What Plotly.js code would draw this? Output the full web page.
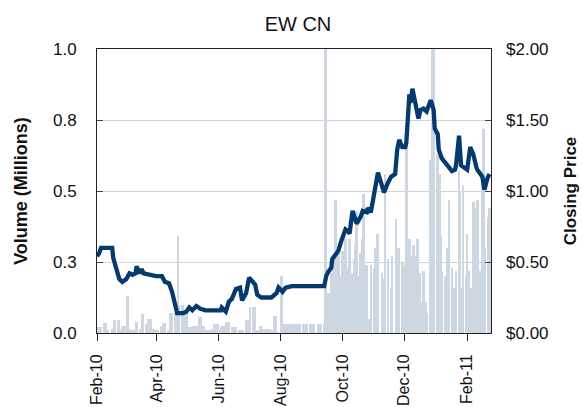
<!DOCTYPE html>
<html>
<head>
<meta charset="utf-8">
<script src="https://cdn.plot.ly/plotly-3.0.1.min.js"></script>
<style>html,body{margin:0;padding:0;background:#fff;}#chart{width:582px;height:407px;}</style>
</head>
<body>
<div id="chart"></div>
<script>
// ---- Data ----
var priceDates = [
"2010-02-01","2010-02-03","2010-02-05","2010-02-12","2010-02-16","2010-02-17","2010-02-19","2010-02-23","2010-02-26",
"2010-03-02","2010-03-05","2010-03-08","2010-03-11","2010-03-12","2010-03-15","2010-03-17","2010-03-19","2010-03-25","2010-03-31",
"2010-04-06","2010-04-09","2010-04-13","2010-04-16","2010-04-19","2010-04-21","2010-04-27","2010-04-30",
"2010-05-03","2010-05-06","2010-05-10","2010-05-13","2010-05-14","2010-05-19","2010-05-27",
"2010-06-03","2010-06-04","2010-06-08","2010-06-11","2010-06-14","2010-06-18","2010-06-22","2010-06-24","2010-06-28",
"2010-07-01","2010-07-05","2010-07-07","2010-07-09","2010-07-13","2010-07-23","2010-07-28","2010-07-30",
"2010-08-03","2010-08-06","2010-08-12","2010-09-13","2010-09-15","2010-09-17","2010-09-20","2010-09-21","2010-09-24","2010-09-27","2010-09-30",
"2010-10-04","2010-10-06","2010-10-08","2010-10-11","2010-10-13","2010-10-15","2010-10-19","2010-10-21","2010-10-25","2010-10-26","2010-10-29",
"2010-11-01","2010-11-03","2010-11-05","2010-11-08","2010-11-11","2010-11-15","2010-11-18","2010-11-22","2010-11-24","2010-11-26","2010-11-29",
"2010-12-02","2010-12-03","2010-12-06","2010-12-07","2010-12-09","2010-12-10","2010-12-13","2010-12-15","2010-12-17","2010-12-20","2010-12-23","2010-12-27","2010-12-30","2010-12-31",
"2011-01-03","2011-01-04","2011-01-07","2011-01-10","2011-01-13","2011-01-17","2011-01-20","2011-01-21","2011-01-24","2011-01-26","2011-01-28",
"2011-02-01","2011-02-04","2011-02-07","2011-02-10","2011-02-11","2011-02-16","2011-02-18","2011-02-21","2011-02-23"
];
var priceValues = [
0.54,0.56,0.60,0.60,0.60,0.53,0.48,0.38,0.36,
0.38,0.42,0.41,0.42,0.47,0.42,0.45,0.42,0.41,0.40,
0.40,0.36,0.35,0.29,0.20,0.14,0.14,0.15,
0.18,0.16,0.19,0.17,0.17,0.16,0.16,
0.16,0.18,0.15,0.22,0.24,0.31,0.32,0.23,0.28,
0.39,0.35,0.34,0.27,0.25,0.25,0.28,0.32,
0.29,0.32,0.33,0.33,0.40,0.43,0.46,0.52,0.55,0.58,0.65,
0.73,0.72,0.70,0.86,0.82,0.77,0.82,0.86,0.85,0.88,0.85,
0.98,1.06,1.13,1.06,0.99,1.06,1.10,1.12,1.29,1.36,1.31,
1.31,1.34,1.68,1.62,1.72,1.69,1.60,1.51,1.57,1.58,1.56,1.64,1.57,1.44,
1.40,1.29,1.23,1.20,1.17,1.14,1.15,1.18,1.39,1.18,1.17,
1.15,1.31,1.26,1.17,1.15,1.10,1.01,1.09,1.12
];

var volDates = [
"2010-02-01","2010-02-03","2010-02-05","2010-02-08","2010-02-10","2010-02-12","2010-02-16","2010-02-18","2010-02-22","2010-02-24","2010-02-26",
"2010-03-01","2010-03-03","2010-03-05","2010-03-08","2010-03-10","2010-03-12","2010-03-16","2010-03-18","2010-03-22","2010-03-24","2010-03-26","2010-03-29","2010-03-31",
"2010-04-02","2010-04-05","2010-04-07","2010-04-09","2010-04-12","2010-04-14","2010-04-16","2010-04-19","2010-04-21","2010-04-22","2010-04-23","2010-04-26","2010-04-28","2010-04-30",
"2010-05-03","2010-05-05","2010-05-07","2010-05-10","2010-05-12","2010-05-13","2010-05-14","2010-05-17","2010-05-19","2010-05-21","2010-05-24","2010-05-26","2010-05-28","2010-05-31",
"2010-06-02","2010-06-04","2010-06-07","2010-06-09","2010-06-11","2010-06-14","2010-06-16","2010-06-18","2010-06-21","2010-06-23","2010-06-25","2010-06-28","2010-06-30",
"2010-07-02","2010-07-05","2010-07-06","2010-07-08","2010-07-09","2010-07-12","2010-07-14","2010-07-16","2010-07-19","2010-07-21","2010-07-23","2010-07-26","2010-07-27","2010-07-29",
"2010-08-02","2010-08-04","2010-08-06","2010-08-09","2010-08-11","2010-08-13","2010-08-16","2010-08-18","2010-08-20","2010-08-23","2010-08-25","2010-08-27","2010-08-30",
"2010-09-01","2010-09-03","2010-09-07","2010-09-09","2010-09-10","2010-09-13","2010-09-14","2010-09-16","2010-09-17","2010-09-20","2010-09-21","2010-09-22","2010-09-24","2010-09-27","2010-09-29","2010-09-30",
"2010-10-01","2010-10-04","2010-10-06","2010-10-08","2010-10-11","2010-10-13","2010-10-14","2010-10-15","2010-10-18","2010-10-19","2010-10-21","2010-10-22","2010-10-25","2010-10-27","2010-10-29",
"2010-11-01","2010-11-02","2010-11-04","2010-11-05","2010-11-09","2010-11-10","2010-11-12","2010-11-15","2010-11-18","2010-11-19","2010-11-23","2010-11-25","2010-11-29",
"2010-12-01","2010-12-03","2010-12-06","2010-12-07","2010-12-10","2010-12-13","2010-12-14","2010-12-16","2010-12-17","2010-12-20","2010-12-22","2010-12-23","2010-12-27","2010-12-29","2010-12-30",
"2011-01-03","2011-01-04","2011-01-05","2011-01-06","2011-01-07","2011-01-10","2011-01-12","2011-01-14","2011-01-17","2011-01-18","2011-01-19","2011-01-21","2011-01-24","2011-01-25","2011-01-27","2011-01-28","2011-01-31",
"2011-02-01","2011-02-02","2011-02-04","2011-02-07","2011-02-09","2011-02-11","2011-02-14","2011-02-16","2011-02-17","2011-02-18","2011-02-22","2011-02-23"
];
var volValues = [
0.02,0.02,0.02,0.035,0.035,0.01,0.015,0.045,0.045,0.01,0.025,
0.025,0.13,0.015,0.01,0.01,0.04,0.015,0.067,0.03,0.05,0.05,0.015,0.01,
0.01,0.025,0.036,0.036,0.01,0.07,0.07,0.07,0.07,0.34,0.10,0.10,0.08,0.08,
0.02,0.02,0.025,0.025,0.015,0.057,0.057,0.025,0.01,0.01,0.01,0.015,0.03,0.03,
0.01,0.025,0.025,0.04,0.04,0.02,0.02,0.02,0.01,0.01,0.01,0.045,0.045,
0.09,0.09,0.09,0.01,0.01,0.025,0.015,0.015,0.015,0.015,0.01,0.06,0.06,0.005,
0.20,0.03,0.03,0.03,0.03,0.03,0.03,0.03,0.03,0.03,0.03,0.03,0.03,
0.03,0.03,0.03,0.03,0.03,0.03,1.10,0.11,0.14,0.21,0.13,0.24,0.47,0.29,0.12,0.20,
0.29,0.33,0.23,0.33,0.21,0.26,0.31,0.43,0.20,0.28,0.33,0.49,0.24,0.05,0.24,
0.23,0.30,0.35,0.35,0.21,0.19,0.56,0.26,0.16,0.27,0.40,0.30,0.25,
0.24,0.68,0.33,0.27,0.31,0.27,0.33,0.21,0.11,0.22,0.11,0.07,0.61,1.10,1.10,
0.63,0.48,0.56,0.34,0.22,0.20,0.30,0.47,0.23,0.14,0.16,0.22,0.57,0.50,0.16,0.52,0.20,
0.35,0.22,0.16,0.46,0.44,0.47,0.22,0.54,0.72,0.30,0.41,0.44
];

var xTickDates = ["2010-02-01","2010-04-01","2010-06-01","2010-08-01","2010-10-01","2010-12-01","2011-02-01"];
var xTickLabels = ["Feb-10","Apr-10","Jun-10","Aug-10","Oct-10","Dec-10","Feb-11"];
var volTicks = [0, 0.25, 0.5, 0.75, 1.0];
var volTickLabels = ["0.0","0.3","0.5","0.8","1.0"];
var priceTicks = [0, 0.5, 1.0, 1.5, 2.0];
var priceTickLabels = ["$0.00","$0.50","$1.00","$1.50","$2.00"];

var FONT = "Liberation Sans, Arial, sans-serif";
var DAY = 86400000;

var traces = [
  {
    type: "bar", x: volDates, y: volValues, yaxis: "y",
    width: 2.6 * DAY,
    marker: {color: "#cdd7e1", line: {width: 0}},
    hoverinfo: "skip", showlegend: false
  },
  {
    type: "scatter", mode: "lines", x: priceDates, y: priceValues, yaxis: "y2",
    line: {color: "#053a6e", width: 4.3, shape: "linear"},
    showlegend: false, cliponaxis: true
  }
];

var layout = {
  width: 582, height: 407,
  margin: {l: 97, r: 91, t: 49, b: 74, pad: 0},
  paper_bgcolor: "#ffffff", plot_bgcolor: "#ffffff",
  font: {family: FONT, color: "#111111"},
  bargap: 0,
  title: {text: "EW CN", font: {family: FONT, size: 20, color: "#111111"},
          x: 0.512, xref: "container", xanchor: "center", y: 0.94, yref: "container", yanchor: "middle"},
  xaxis: {
    type: "date", range: ["2010-02-01", "2011-02-24 12:00"],
    tickmode: "array", tickvals: xTickDates, ticktext: xTickLabels,
    tickangle: -90, ticks: "outside", ticklen: 7, tickwidth: 1, tickcolor: "#222",
    tickfont: {family: FONT, size: 16, color: "#111"},
    showline: true, linecolor: "#222", linewidth: 1, mirror: true,
    showgrid: false, zeroline: false, ticklabelstandoff: 7
  },
  yaxis: {
    range: [0, 1], tickmode: "array", tickvals: volTicks, ticktext: volTickLabels,
    ticks: "inside", ticklen: 6, tickcolor: "#444", tickwidth: 1,
    tickfont: {family: FONT, size: 17, color: "#111"},
    showline: true, linecolor: "#222", linewidth: 1, mirror: true,
    showgrid: true, gridcolor: "#d3d3d3", gridwidth: 1, zeroline: false,
    ticklabelstandoff: 16,
    title: {text: "Volume (Millions)", font: {family: FONT, size: 18, color: "#111", weight: "bold"}, standoff: 20}
  },
  yaxis2: {
    overlaying: "y", side: "right",
    range: [0, 2], tickmode: "array", tickvals: priceTicks, ticktext: priceTickLabels,
    ticks: "inside", ticklen: 6, tickcolor: "#444", tickwidth: 1,
    tickfont: {family: FONT, size: 17, color: "#111"},
    showline: false, showgrid: false, zeroline: false,
    ticklabelstandoff: 14,
    title: {text: "Closing Price", font: {family: FONT, size: 17, color: "#111", weight: "bold"}, standoff: 16}
  }
};

Plotly.newPlot("chart", traces, layout, {staticPlot: true, displayModeBar: false});
</script>
</body>
</html>
